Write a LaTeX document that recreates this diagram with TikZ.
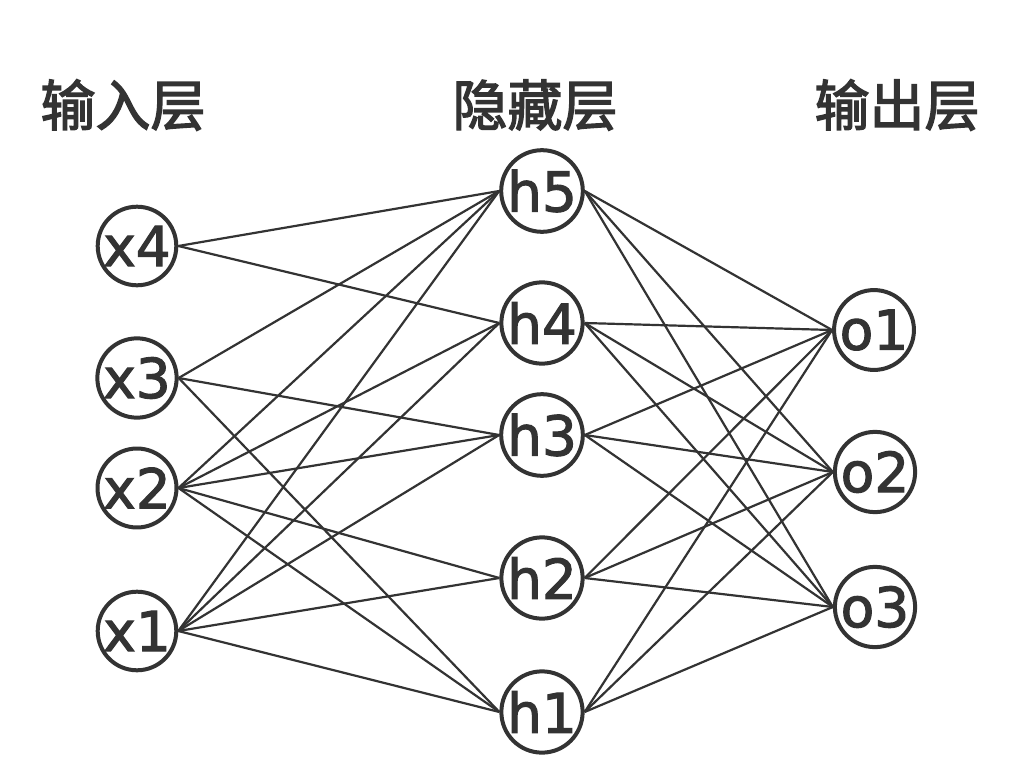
\documentclass[tikz,border=0pt]{standalone}
\usepackage{fontspec}
\newfontfamily\cjk{Noto Sans CJK SC}[FakeBold=2.5]
\newfontfamily\lab{DejaVu Sans}[FakeBold=2]
\definecolor{ink}{HTML}{333333}
\begin{document}
\begin{tikzpicture}[x=1pt,y=-1pt,
  neuron/.style={circle,draw=ink,line width=4pt,minimum size=78pt,inner sep=0pt,
    font=\lab\fontsize{55}{55}\selectfont,text=ink},
  layertitle/.style={font=\cjk\fontsize{55}{55}\selectfont,text=ink,inner sep=0pt},
  link/.style={draw=ink,line width=2.2pt}]
\useasboundingbox (0,0) rectangle (1012,765);
\fill[white] (0,0) rectangle (1012,765);

\node[layertitle] (tin)  at (123,105) {输入层};
\node[layertitle] (thid) at (535,105) {隐藏层};
\node[layertitle] (tout) at (897,105) {输出层};

\node[neuron] (x4) at (137,246) {x4};
\node[neuron] (x3) at (137,378) {x3};
\node[neuron] (x2) at (137,488) {x2};
\node[neuron] (x1) at (137,631) {x1};

\node[neuron] (h5) at (542,191) {h5};
\node[neuron] (h4) at (542,323) {h4};
\node[neuron] (h3) at (542,435) {h3};
\node[neuron] (h2) at (542,578) {h2};
\node[neuron] (h1) at (542,712) {h1};

\node[neuron] (o1) at (874,330) {o1};
\node[neuron] (o2) at (875,472) {o2};
\node[neuron] (o3) at (875,607) {o3};

\foreach \a/\b in {x4/h5,x4/h4,x3/h5,x3/h3,x3/h1,
  x2/h5,x2/h4,x2/h3,x2/h2,x2/h1,
  x1/h5,x1/h4,x1/h3,x1/h2,x1/h1}
  \draw[link] (\a.east) -- (\b.west);
\foreach \a in {h1,h2,h3,h4,h5}
  \foreach \b in {o1,o2,o3}
    \draw[link] (\a.east) -- (\b.west);
\end{tikzpicture}
\end{document}
